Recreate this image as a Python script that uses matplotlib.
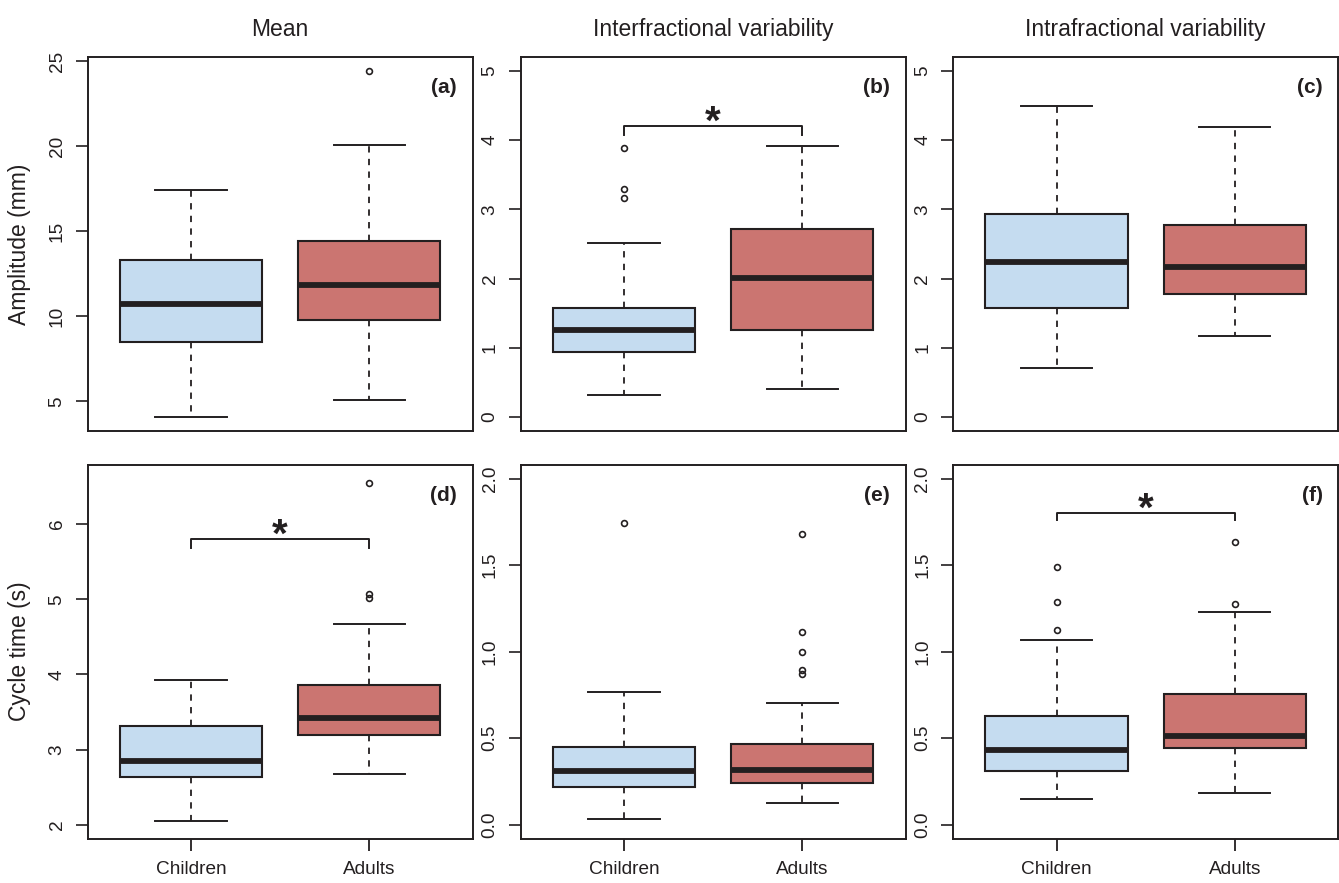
import matplotlib
matplotlib.use("Agg")
import matplotlib.pyplot as plt

plt.rcParams['font.family'] = ['Liberation Sans', 'DejaVu Sans']

# ---------------- data ----------------
groups = ["Children", "Adults"]
col_titles = ["Mean", "Interfractional variability", "Intrafractional variability"]
row_labels = ["Amplitude (mm)", "Cycle time (s)"]
panel_tags = ["(a)", "(b)", "(c)", "(d)", "(e)", "(f)"]

# five-number summaries per panel: [whislo, q1, med, q3, whishi] for Children, Adults
amp_mean_children = [4.09, 8.50, 10.75, 13.28, 17.40]
amp_mean_adults = [5.07, 9.77, 11.83, 14.42, 20.06]
amp_inter_children = [0.32, 0.94, 1.25, 1.575, 2.51]
amp_inter_adults = [0.40, 1.257, 2.01, 2.71, 3.91]
amp_intra_children = [0.70, 1.567, 2.24, 2.93, 4.49]
amp_intra_adults = [1.166, 1.77, 2.16, 2.78, 4.19]
cyc_mean_children = [2.05, 2.63, 2.855, 3.317, 3.93]
cyc_mean_adults = [2.68, 3.19, 3.42, 3.86, 4.665]
cyc_inter_children = [0.031, 0.218, 0.308, 0.449, 0.769]
cyc_inter_adults = [0.125, 0.241, 0.316, 0.466, 0.705]
cyc_intra_children = [0.149, 0.308, 0.43, 0.628, 1.069]
cyc_intra_adults = [0.181, 0.441, 0.513, 0.757, 1.231]

# outliers
amp_mean_fliers = [[], [24.43]]
amp_inter_fliers = [[3.89, 3.29, 3.16], []]
amp_intra_fliers = [[], []]
cyc_mean_fliers = [[], [6.54, 5.064, 5.016]]
cyc_inter_fliers = [[1.742], [1.68, 1.114, 1.0, 0.896, 0.873]]
cyc_intra_fliers = [[1.125, 1.289, 1.487], [1.276, 1.634]]

# significance brackets: (top of bracket, bottom of legs) or None
sig_brackets = [None, (4.20, 4.07), None, (5.805, 5.68), None, (1.80, 1.763)]

# axis settings
ylims = [(3.27, 25.235), (-0.2, 5.2), (-0.2, 5.2), (1.818, 6.79), (-0.08, 2.08), (-0.08, 2.08)]
yticks = [[5, 10, 15, 20, 25], [0, 1, 2, 3, 4, 5], [0, 1, 2, 3, 4, 5],
          [2, 3, 4, 5, 6], [0.0, 0.5, 1.0, 1.5, 2.0], [0.0, 0.5, 1.0, 1.5, 2.0]]
ytick_fmt = ["{:g}", "{:g}", "{:g}", "{:g}", "{:.1f}", "{:.1f}"]

summaries = [
    (amp_mean_children, amp_mean_adults, amp_mean_fliers),
    (amp_inter_children, amp_inter_adults, amp_inter_fliers),
    (amp_intra_children, amp_intra_adults, amp_intra_fliers),
    (cyc_mean_children, cyc_mean_adults, cyc_mean_fliers),
    (cyc_inter_children, cyc_inter_adults, cyc_inter_fliers),
    (cyc_intra_children, cyc_intra_adults, cyc_intra_fliers),
]

# ---------------- style ----------------
DARK = "#231f20"
FILLS = ["#c5dcf0", "#cb7571"]
W, H = 1339, 883
lefts = [87.7, 520.7, 953.3]
tops = [57.0, 464.7]
aw, ah = 384.8, 373.8

fig = plt.figure(figsize=(W / 100, H / 100), dpi=100)

for i in range(6):
    r, c = divmod(i, 3)
    ax = fig.add_axes([lefts[c] / W, 1 - (tops[r] + ah) / H, aw / W, ah / H])
    ch, ad, fl = summaries[i]
    stats = []
    for s, f, lab in zip((ch, ad), fl, groups):
        stats.append(dict(whislo=s[0], q1=s[1], med=s[2], q3=s[3], whishi=s[4],
                          fliers=f, label=lab))
    bp = ax.bxp(stats, positions=[1, 2], widths=0.8, capwidths=0.4,
                patch_artist=True, showfliers=True,
                boxprops=dict(edgecolor=DARK, linewidth=1.5),
                medianprops=dict(color=DARK, linewidth=4.2, solid_capstyle='butt'),
                whiskerprops=dict(color=DARK, linewidth=1.3, linestyle=(0, (3.5, 3.5))),
                capprops=dict(color=DARK, linewidth=1.4),
                flierprops=dict(marker='o', markerfacecolor='none', markeredgecolor=DARK,
                                markersize=4.2, markeredgewidth=1.2, linestyle='none'))
    for patch, col in zip(bp['boxes'], FILLS):
        patch.set_facecolor(col)

    ax.set_xlim(0.42, 2.58)
    ax.set_ylim(*ylims[i])
    ax.set_yticks(yticks[i])
    ax.set_yticklabels([ytick_fmt[i].format(v) for v in yticks[i]])
    ax.tick_params(axis='y', direction='out', length=8.4, width=1.2, pad=7.5,
                   labelsize=13.7, colors=DARK, labelrotation=90)
    for lbl in ax.get_yticklabels():
        lbl.set_va('center')
    if r == 1:
        ax.set_xticks([1, 2])
        ax.set_xticklabels(groups)
        ax.tick_params(axis='x', direction='out', length=8.4, width=1.3, pad=8,
                       labelsize=13.7, colors=DARK)
    else:
        ax.set_xticks([])
    for sp in ax.spines.values():
        sp.set_linewidth(1.4)
        sp.set_color(DARK)

    ax.text(0.96, 0.918, panel_tags[i], transform=ax.transAxes, ha='right', va='center',
            fontsize=15, fontweight='bold', color=DARK)

    if r == 0:
        ax.set_title(col_titles[c], fontsize=16.5, color=DARK, pad=15)
    if c == 0:
        ax.set_ylabel(row_labels[r], fontsize=16.5, color=DARK)
        ax.yaxis.label.set_va('center')
        ax.yaxis.set_label_coords(-(lefts[0] - 20) / aw, 0.5)

    br = sig_brackets[i]
    if br is not None:
        top, bot = br
        ax.plot([1, 1, 2, 2], [bot, top, top, bot], color=DARK, linewidth=1.4)
        ax.annotate('*', xy=(1.5, top), xytext=(0, -5.5), textcoords='offset points',
                    ha='center', va='baseline', fontsize=29, fontweight='bold', color=DARK)

fig.savefig("out.png", dpi=100)
